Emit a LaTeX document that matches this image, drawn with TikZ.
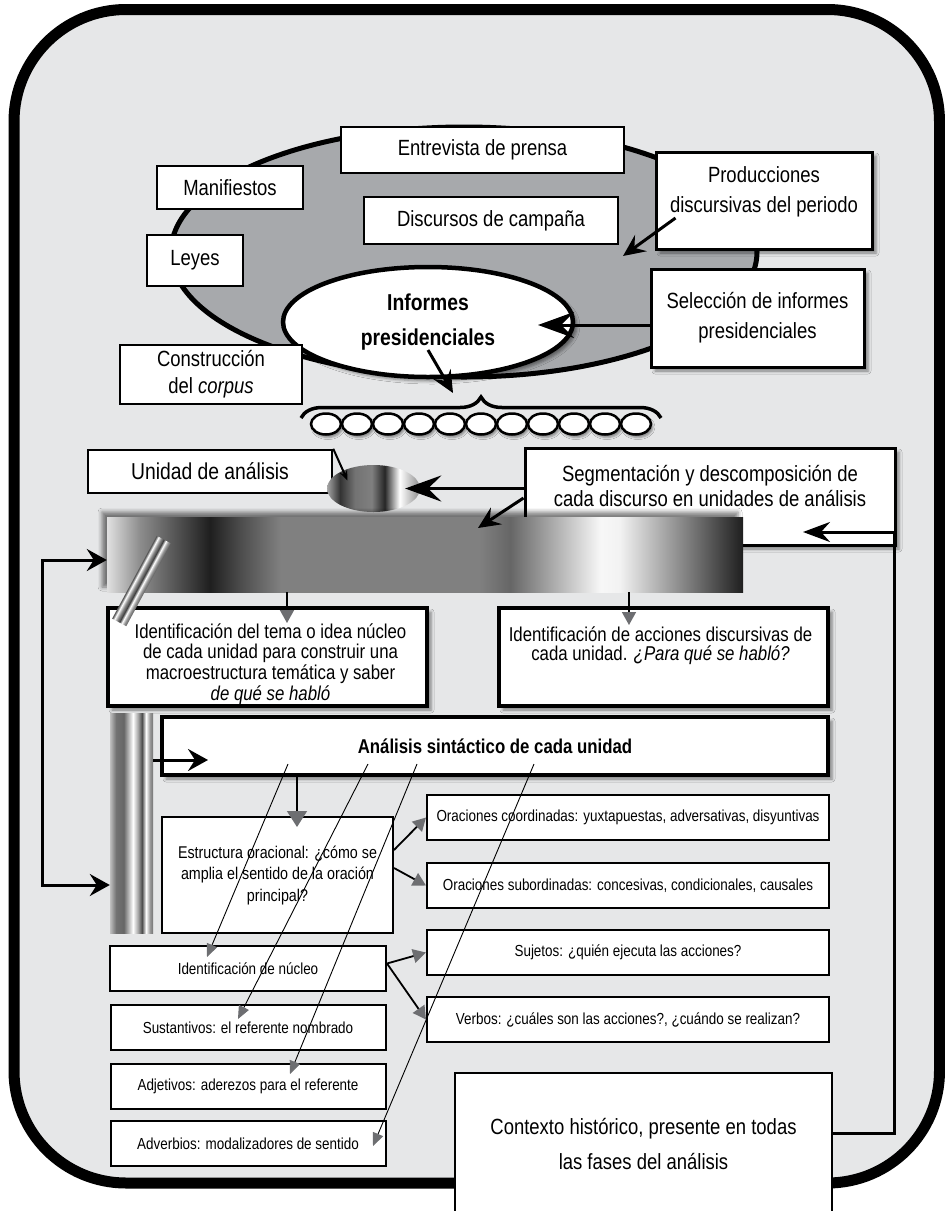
\documentclass[tikz,border=0pt]{standalone}
\usepackage{fontspec}
\setmainfont{Liberation Sans}[FakeStretch=0.84]
\usepackage{tikz}
\usetikzlibrary{positioning}
\usetikzlibrary{arrows.meta}
\usetikzlibrary{shapes.geometric}
\usetikzlibrary{decorations.pathreplacing}
\usetikzlibrary{shadows.blur}

\definecolor{framegray}{HTML}{E6E7E8}
\definecolor{ellgray}{HTML}{A7A9AC}
\definecolor{tipgray}{HTML}{6D6E71}

\pgfdeclarehorizontalshading{barshade}{100bp}{color(0bp)=(black!12); color(25bp)=(black!12); color(27.6bp)=(black!45); color(33.1bp)=(black!88); color(35.5bp)=(black!70); color(38.6bp)=(black!50); color(54.3bp)=(black!50); color(56.7bp)=(black!60); color(59.8bp)=(black!35); color(63.8bp)=(black!3); color(65.3bp)=(black!5); color(70bp)=(black!45); color(75bp)=(black!88); color(100bp)=(black!88)}
\pgfdeclarehorizontalshading{pipeshade}{100bp}{color(0bp)=(black!25); color(25bp)=(black!25); color(32bp)=(black!55); color(41bp)=(black!60); color(51.7bp)=(white); color(57.6bp)=(black!35); color(62.2bp)=(black!70); color(66.9bp)=(white); color(71.5bp)=(black!40); color(75bp)=(black!55); color(100bp)=(black!55)}
\pgfdeclarehorizontalshading{unishade}{100bp}{color(0bp)=(black!35); color(25bp)=(black!35); color(32bp)=(black!80); color(40bp)=(black!55); color(49bp)=(black!50); color(56bp)=(black!85); color(64bp)=(white); color(70bp)=(black!25); color(75bp)=(black!45); color(100bp)=(black!45)}
\pgfdeclarehorizontalshading{rodshade}{100bp}{color(0bp)=(black!65); color(25bp)=(black!65); color(32bp)=(white); color(41bp)=(black!45); color(50bp)=(black!75); color(58bp)=(white); color(66bp)=(black!40); color(75bp)=(black!65); color(100bp)=(black!65)}

\begin{document}
\begin{tikzpicture}[x=1pt, y=-1pt]
	\tikzstyle{box} = [draw, line width=2.5pt, fill=white, align=center, inner sep=0pt, font=\fontsize{22}{30}\selectfont]
	\tikzstyle{smallbox} = [draw, line width=2pt, fill=white, align=center, inner sep=0pt, minimum width=402pt, minimum height=45pt, font=\fontsize{16}{20}\selectfont]
	\tikzstyle{txt} = [align=center, inner sep=0pt]
	\tikzstyle{shadowed} = [blur shadow={shadow xshift=4pt, shadow yshift=-4pt, shadow blur radius=3pt, shadow opacity=45}]
	\tikzstyle{bigarrow} = [-{Stealth[length=36pt, width=26pt, inset=13pt]}, line width=3pt]
	\tikzstyle{arrow} = [-{Stealth[length=22pt, width=20pt, inset=8pt]}, line width=3pt]
	\tikzstyle{dblarrow} = [{Stealth[length=20pt, width=22pt, inset=7pt]}-{Stealth[length=20pt, width=22pt, inset=7pt]}, line width=3pt]
	\tikzstyle{grayarrow} = [-{Triangle[length=13pt, width=14pt, color=tipgray]}, line width=1.8pt]
	\tikzstyle{thinarrow} = [-{Triangle[length=13pt, width=11pt, color=tipgray]}, line width=0.9pt]

	\useasboundingbox (0,0) rectangle (945,1211);
	\clip (0,0) rectangle (945,1211);
	\fill[white] (0,0) rectangle (945,1211);
	\draw[line width=11pt, fill=framegray, rounded corners=112pt] (14,9.5) rectangle (939.5,1183);

	% producciones discursivas
	\node[ellipse, draw, line width=5pt, fill=ellgray, minimum width=586pt, minimum height=250pt, inner sep=0pt] (fuentes) at (464,252) {};
	\node[box, minimum width=283pt, minimum height=46pt] (entrevista) at (482.5,150) {Entrevista de prensa};
	\node[box, minimum width=146pt, minimum height=43pt] (manifiestos) at (230,187.5) {Manifiestos};
	\node[box, minimum width=254pt, minimum height=47pt] (discursos) at (491,220.5) {Discursos de campaña};
	\node[box, minimum width=96pt, minimum height=51pt] (leyes) at (195,260.5) {Leyes};
	\node[box, shadowed, line width=3pt, minimum width=216pt, minimum height=97pt] (producciones) at (764,200.5) {};
	\node[txt, font=\fontsize{22}{30}\selectfont] (prodtxt) at ([yshift=8.5pt]producciones.center) {Producciones\\discursivas del periodo};
	\node[box, shadowed, line width=3pt, minimum width=213pt, minimum height=98pt] (seleccion) at (757.5,318) {Selección de informes\\presidenciales};
	\node[ellipse, draw, fill=white, line width=4.5pt, shadowed, minimum width=290pt, minimum height=110pt, inner sep=0pt, align=center, font=\bfseries\fontsize{23}{35}\selectfont] (informes) at (428,322) {Informes\\presidenciales};

	\coordinate (selin) at (538,325);
	\coordinate (prodtip) at (623,256);
	\draw[bigarrow] (seleccion.west |- selin) -- (selin);
	\draw[arrow] ([xshift=21pt, yshift=-17.5pt]producciones.west) -- (prodtip);

	% corpus
	\node[box, minimum width=182pt, minimum height=59pt, font=\fontsize{22}{27}\selectfont] (construccion) at (211,374.5) {Construcción\\del \textit{corpus}};
	\coordinate (brL) at (301,418);
	\coordinate (brR) at (661,418);
	\coordinate (brtip) at (453,393);
	\draw[decorate, decoration={brace, amplitude=21pt}, line width=3.5pt] (brL) -- (brR);
	\foreach \i in {0,...,10}
		\node[ellipse, draw, fill=white, line width=2.5pt, minimum width=30pt, minimum height=21pt, inner sep=0pt, blur shadow={shadow xshift=2pt, shadow yshift=-3pt, shadow blur radius=2pt}] (inf\i) at ({326+31*\i},424) {};
	\draw[arrow] ([yshift=-28pt]informes.center) -- (brtip);

	% unidades
	\node[box, minimum width=244pt, minimum height=43pt, font=\fontsize{23}{28}\selectfont] (unidad) at (210,471.5) {Unidad de análisis};
	\node[ellipse, shade, shading=unishade, minimum width=93pt, minimum height=47pt, inner sep=0pt] (uniell) at (373.5,488.5) {};
	\draw[-{Stealth[length=10pt, width=8pt]}, line width=2pt] (unidad.north east) -- ([xshift=-26pt, yshift=8pt]uniell.center);
	\node[box, shadowed, line width=3pt, minimum width=370pt, minimum height=97pt] (segmentacion) at (710,496.5) {};
	\node[txt, font=\fontsize{22}{25}\selectfont] (segtxt) at ([yshift=11pt]segmentacion.center) {Segmentación y descomposición de\\cada discurso en unidades de análisis};
	\draw[bigarrow] (segmentacion.west |- uniell.center) -- ([xshift=-15pt]uniell.east);

	\node[shade, shading=barshade, minimum width=636pt, minimum height=75pt, inner sep=0pt, blur shadow={shadow xshift=-5pt, shadow yshift=5pt, shadow blur radius=4pt, shadow opacity=50}] (bar) at (425,554.5) {};
	\coordinate (bartip) at (478,528);
	\draw[arrow] ([yshift=-1.5pt]segmentacion.west) -- (bartip);

	% tema y acciones
	\node[box, shadowed, line width=3.5pt, minimum width=319pt, minimum height=98pt] (tema) at (267.5,657) {};
	\node[txt, font=\fontsize{20}{20.7}\selectfont] (tematxt) at ([xshift=3pt, yshift=-7pt]tema.center) {Identificación del tema o idea núcleo\\de cada unidad para construir una\\macroestructura temática y saber\\\textit{de qué se habló}};
	\node[box, shadowed, line width=3.5pt, minimum width=329pt, minimum height=98pt] (acciones) at (663.5,657) {};
	\node[txt, font=\fontsize{20}{19}\selectfont] (acctxt) at ([xshift=-3pt, yshift=11pt]acciones.center) {Identificación de acciones discursivas de\\cada unidad. \textit{¿Para qué se habló?}};
	\coordinate (temain) at (287,623);
	\coordinate (accin) at (629,625);
	\draw[grayarrow, line width=1.5pt] (bar.south -| temain) -- (temain);
	\draw[grayarrow, line width=1.5pt] (bar.south -| accin) -- (accin);

	\begin{scope}[transform canvas={shift={(141.5,581)}, rotate=-28.3}]
		\shade[shading=rodshade] (-8,-47) rectangle (8,47);
	\end{scope}

	% analisis sintactico
	\node[shade, shading=pipeshade, minimum width=43pt, minimum height=220pt, inner sep=0pt] (pipe) at (131.5,823) {};
	\node[box, shadowed, line width=4pt, minimum width=666pt, minimum height=58pt, font=\bfseries\fontsize{20}{24}\selectfont] (analisis) at (495,746) {Análisis sintáctico de cada unidad};
	\coordinate (anin) at (208,760);
	\draw[-{Stealth[length=20pt, width=22pt, inset=7pt]}, line width=3pt] (pipe.east |- anin) -- (anin);
	\coordinate (loopA) at (42,560);
	\coordinate (loopB) at (42,885);
	\draw[dblarrow] (bar.west |- loopA) -- (loopA) -- (loopB) -- (pipe.west |- loopB);

	\node[box, line width=2pt, minimum width=231pt, minimum height=116pt, font=\fontsize{17}{21.5}\selectfont] (estructura) at (277.5,875) {Estructura oracional: ¿cómo se\\amplia el sentido de la oración\\principal?};
	\coordinate (estin) at (297,827);
	\draw[-{Triangle[length=16pt, width=20pt, color=tipgray]}, line width=1.5pt] (analisis.south -| estin) -- (estin);

	\node[smallbox] (coord) at (628,817.5) {Oraciones coordinadas: yuxtapuestas, adversativas, disyuntivas};
	\node[smallbox, below=21pt of coord] (subord) {Oraciones subordinadas: concesivas, condicionales, causales};
	\node[smallbox, below=20pt of subord] (sujetos) {Sujetos: ¿quién ejecuta las acciones?};
	\node[smallbox, below=20pt of sujetos] (verbos) {Verbos: ¿cuáles son las acciones?, ¿cuándo se realizan?};

	\node[smallbox, minimum width=276pt] (nucleo) at (248,968.5) {Identificación de núcleo};
	\node[smallbox, minimum width=275pt, below=12pt of nucleo] (sustantivos) {Sustantivos: el referente nombrado};
	\node[smallbox, minimum width=275pt, below=12pt of sustantivos] (adjetivos) {Adjetivos: aderezos para el referente};
	\node[smallbox, minimum width=275pt, below=10pt of adjetivos] (adverbios) {Adverbios: modalizadores de sentido};

	\draw[grayarrow] ([yshift=25pt]estructura.east) -- (coord.west);
	\draw[grayarrow] ([yshift=7pt]estructura.east) -- (subord.west);
	\draw[grayarrow] ([yshift=5pt]nucleo.east) -- (sujetos.west);
	\draw[grayarrow] ([yshift=5pt]nucleo.east) -- (verbos.west);

	\foreach \dx/\tgt/\tx/\ty in {-207/nucleo/-41/11.5, -127/sustantivos/-10/8.5, -78/adjetivos/42/12.5, 39/adverbios/125/-2.5}
		\draw[thinarrow] ([xshift=\dx pt, yshift=-18pt]analisis.center) -- ([xshift=\tx pt, yshift=\ty pt]\tgt.center);

	% contexto
	\node[box, line width=2pt, minimum width=377pt, minimum height=142pt, font=\fontsize{22}{35}\selectfont] (contexto) at (643.5,1144) {Contexto histórico, presente en todas\\las fases del análisis};
	\coordinate (fbA) at (894,1133);
	\coordinate (fbB) at (894,532);
	\coordinate (fbtip) at (803,532);
	\draw[-{Stealth[length=27pt, width=20pt, inset=9pt]}, line width=3pt] (contexto.east |- fbA) -- (fbA) -- (fbB) -- (fbtip);
\end{tikzpicture}
\end{document}
